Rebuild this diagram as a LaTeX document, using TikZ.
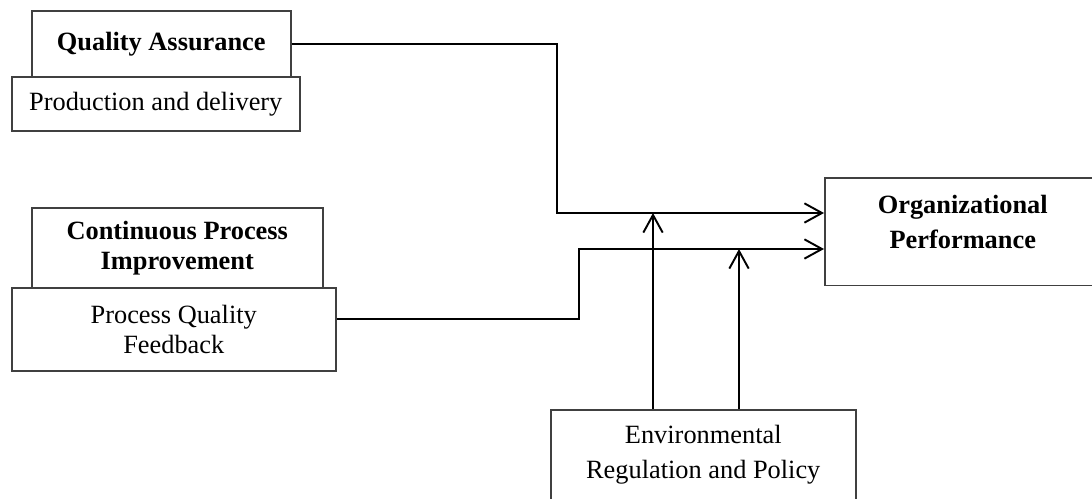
\documentclass[tikz,border=0pt]{standalone}
\usepackage{fontspec}
\setmainfont{Liberation Serif}
\usetikzlibrary{arrows.meta}

\tikzset{
  blockbox/.style={draw=black!75, line width=0.9pt, inner sep=0pt, align=center,
    anchor=north west, font=\fontsize{15pt}{17pt}\selectfont},
  headbox/.style={blockbox, font=\fontsize{15pt}{17pt}\selectfont\bfseries},
  conn/.style={line width=1.1pt, -{Straight Barb[length=10pt,width=11pt,line width=1.1pt]}},
  link/.style={line width=1.1pt}
}

\begin{document}
\begin{tikzpicture}[x=0.02cm,y=-0.02cm]
\useasboundingbox (0,0) rectangle (1092,499);

% Quality assurance
\node[headbox, minimum width=5.18cm, minimum height=1.32cm] (qa) at (31,10) {Quality Assurance};
\node[blockbox, minimum width=5.76cm, minimum height=1.08cm] (prod) at (11,76) {Production and delivery};

% Continuous process improvement
\node[headbox, minimum width=5.82cm, minimum height=1.6cm] (cpi) at (31,207) {Continuous Process\\Improvement};
\node[blockbox, minimum width=6.48cm, minimum height=1.66cm] (pqf) at (11,287) {Process Quality\\Feedback};

% Outcome and moderator
\node[headbox, font=\fontsize{15pt}{19.8pt}\selectfont\bfseries, minimum width=5.52cm,
  text height=40.25pt, text depth=21pt] (org) at (824,177) {Organizational\\Performance};
\node[blockbox, font=\fontsize{15pt}{19.8pt}\selectfont, minimum width=6.1cm,
  text height=39.1pt, text depth=21pt] (env) at (550,409) {Environmental\\Regulation and Policy};

% Paths into performance
\draw[conn] (qa.east) -| (557,213) -- (org.west |- 0,213);
\draw[conn] (pqf.east |- 0,319) -| (579,249) -- (org.west |- 0,249);

% Moderating effects
\draw[conn] (env.north -| 653,0) -- (653,213);
\draw[conn] (env.north -| 739,0) -- (739,249);
\end{tikzpicture}
\end{document}
